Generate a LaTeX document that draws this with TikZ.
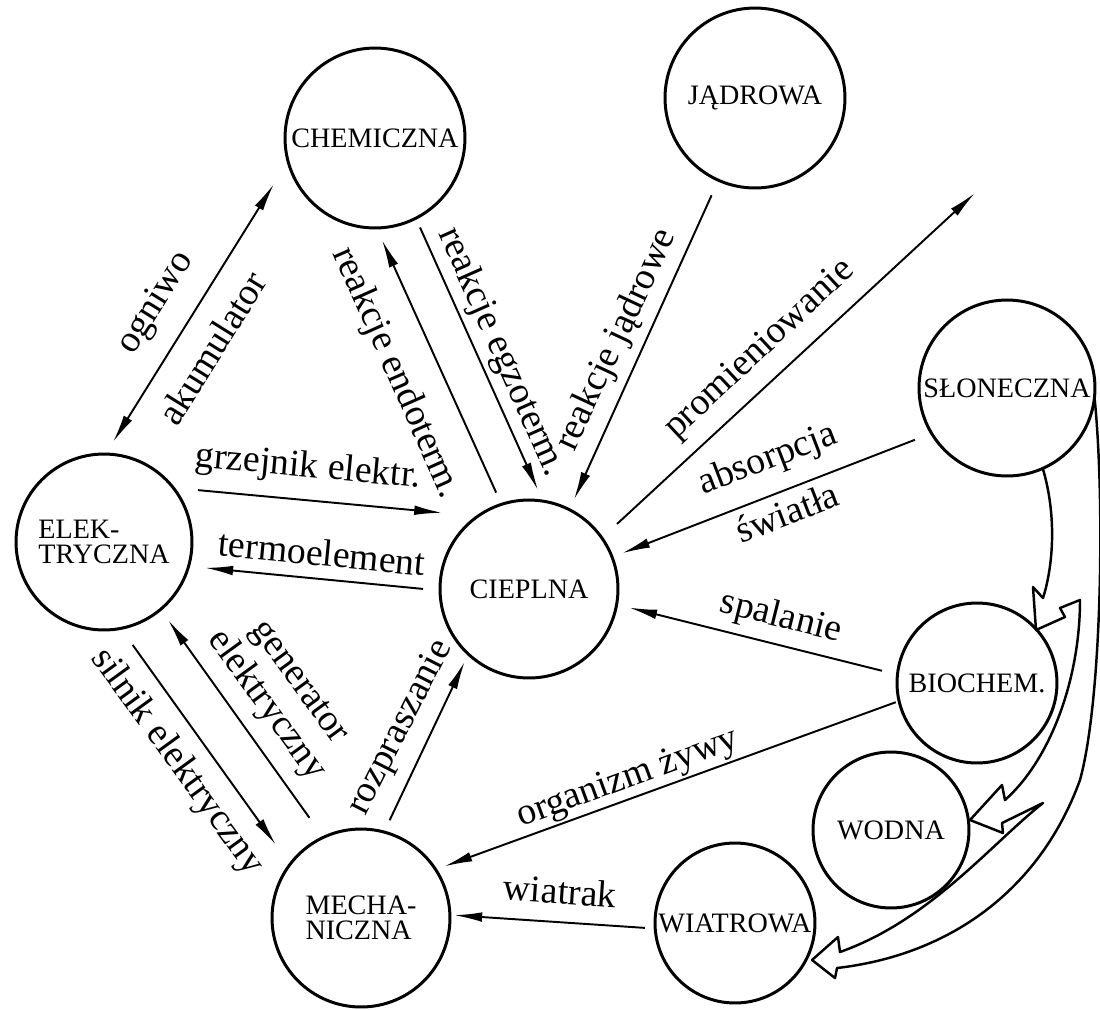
\documentclass[tikz,border=0pt]{standalone}
\usepackage{fontspec}
\setmainfont{Liberation Serif}
\usetikzlibrary{arrows.meta}
\newcommand{\zw}[1]{\makebox[0pt]{#1}}
\begin{document}
\begin{tikzpicture}[x=0.02cm,y=-0.02cm,
  en/.style={circle,draw,line width=1.7pt,inner sep=0pt,outer sep=0pt,
    font=\fontsize{16}{14}\selectfont,align=center},
  conn/.style={line width=1.1pt,-{Latex[length=16pt,width=5.5pt]}},
  lbl/.style={font=\fontsize{21.5}{23}\selectfont,inner sep=0pt,align=center},
  flow/.style={line width=1.4pt,line join=round}]
\fill[white] (0,0) rectangle (1100,1009);
\useasboundingbox (0,0) rectangle (1100,1009);

% energy forms
\node[en,minimum size=3.6cm]  (chem) at (375,138) {\zw{CHEMICZNA}};
\node[en,minimum size=3.6cm]  (jad)  at (755,98)  {\zw{JĄDROWA}};
\node[en,minimum size=3.52cm] (slon) at (1007,388) {\zw{SŁONECZNA}};
\node[en,minimum size=3.52cm,align=left] (elek) at (104,542) {ELEK-\\TRYCZNA};
\node[en,minimum size=3.56cm] (ciep) at (529,589) {\zw{CIEPLNA}};
\node[en,minimum size=3.2cm]  (bio)  at (977,683) {\zw{BIOCHEM.}};
\node[en,minimum size=3.12cm] (wod)  at (891,830) {\zw{WODNA}};
\node[en,minimum size=3.56cm,align=left] (mech) at (361,918) {MECHA-\\NICZNA};
\node[en,minimum size=3.2cm]  (wiat) at (735,923) {\zw{WIATROWA}};
\coordinate (radout) at (975,193);

% connectors
\draw[conn,shorten <=0.498cm,shorten >=0.716cm] (elek.38.1) -- (ciep.125.3);
\draw[conn,shorten <=0.342cm,shorten >=0.33cm] (ciep.181) -- (elek.-16.1);
\draw[line width=1.1pt,{Latex[length=16pt,width=5.5pt]}-{Latex[length=16pt,width=5.5pt]},
      shorten <=0.284cm,shorten >=0.536cm] (elek.89.7) -- (chem.195.7);
\draw[conn,shorten <=0.258cm,shorten >=0.264cm] (ciep.108.8) -- (chem.-89.6);
\draw[conn,shorten <=0.204cm,shorten >=0.24cm] (chem.-63.7) -- (ciep.81.7);
\draw[conn,shorten <=0.33cm,shorten >=0.224cm] (jad.-114.4) -- (ciep.63.7);
\draw[conn,shorten <=0.412cm] (ciep.35) -- (radout);
\draw[conn,shorten <=0.358cm,shorten >=0.214cm] (slon.211.2) -- (ciep.21.1);
\draw[conn,shorten <=0.318cm,shorten >=0.256cm] (bio.174.1) -- (ciep.-10.3);
\draw[conn,shorten <=0.07cm,shorten >=0.184cm] (bio.193.6) -- (mech.33.3);
\draw[conn,shorten <=0.206cm,shorten >=0.082cm] (wiat.184.9) -- (mech.2.1);
\draw[conn,shorten <=0.406cm,shorten >=0.482cm] (elek.-79.4) -- (mech.143.9);
\draw[conn,shorten <=0.48cm,shorten >=0.258cm] (mech.115.3) -- (elek.-50.1);
\draw[conn,shorten <=0.262cm,shorten >=0.168cm] (mech.75.5) -- (ciep.227.3);

% labels
\node[lbl,rotate=-5.4] (lgrz) at (308,468) {grzejnik elektr.};
\node[lbl,rotate=-5.5] (lter) at (322,553) {termoelement};
\node[lbl,rotate=58] (logn) at (156,303) {ogniwo};
\node[lbl,rotate=58] (lakm) at (212,348) {akumulator};
\node[lbl,rotate=-66] (lend) at (396,373) {reakcje endoterm.};
\node[lbl,rotate=-66] (legz) at (501,352) {reakcje egzoterm.};
\node[lbl,rotate=65] (ljad) at (617,340) {reakcje jądrowe};
\node[lbl,rotate=43] (lpro) at (760,350) {promieniowanie};
\node[lbl,rotate=21] (labs) at (768,460) {absorpcja};
\node[lbl,rotate=21] (lswi) at (787,512) {światła};
\node[lbl,rotate=-14] (lspa) at (781,618) {spalanie};
\node[lbl,rotate=20] (lorg) at (628,779) {organizm żywy};
\node[lbl,rotate=-4] (lwia) at (560,891) {wiatrak};
\node[lbl,rotate=-54] (lsil) at (177,762) {silnik elektryczny};
\node[lbl,rotate=-54] (lgen) at (281,695) {generator\\elektryczny};
\node[lbl,rotate=63] (lroz) at (401,728) {rozpraszanie};

% hollow flow arrows from solar energy
\draw[flow] (slon.-66) .. controls (1058,520) and (1052,570) .. (1043,598)
  -- (1033,587) -- (1036,630) -- (1065,617) -- (1060,608) -- (1080,600)
  .. controls (1080,680) and (1050,760) .. (1005,800)
  -- (1002,785) -- (970,820) -- (1003,833) -- (1002,823) -- (1043,803)
  .. controls (990,845) and (930,920) .. (840,952)
  -- (838,937) -- (812,960) -- (835,978) -- (837,968)
  .. controls (950,955) and (1040,890) .. (1080,780)
  .. controls (1102,700) and (1105,500) .. (slon.-6);
\end{tikzpicture}
\end{document}
